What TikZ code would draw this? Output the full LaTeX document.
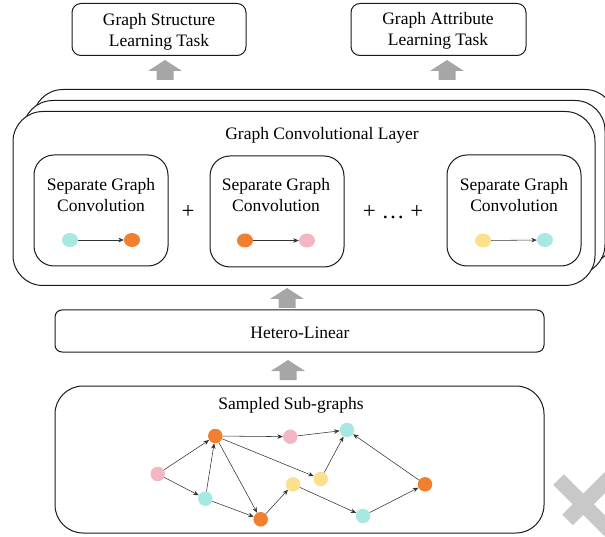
\documentclass[tikz,border=0pt]{standalone}
\usepackage{fontspec}
\setmainfont{Liberation Serif}
\usetikzlibrary{arrows.meta,shapes.geometric}
\definecolor{gpink}{HTML}{F4B6C2}
\definecolor{gteal}{HTML}{A8E8E2}
\definecolor{gorange}{HTML}{F08030}
\definecolor{gyellow}{HTML}{FDE08E}
\definecolor{garrow}{HTML}{A6A6A6}
\definecolor{gcross}{HTML}{C8C8C8}
\definecolor{gline}{HTML}{1A1A1A}
\tikzset{
  x=1pt,y=-1pt,
  box/.style={draw=gline,line width=1pt,fill=white,inner sep=0pt,align=center,font=\fontsize{17.5}{21}\selectfont},
  lbl/.style={inner sep=0pt,align=center,font=\fontsize{17.5}{21}\selectfont},
  vert/.style={circle,inner sep=0pt,minimum size=14.5pt},
  evert/.style={ellipse,inner sep=0pt,minimum width=16pt,minimum height=14pt},
  edge/.style={-{Stealth[length=5.5pt,width=4.5pt]},draw=black!80,line width=0.55pt},
  up/.style={fill=garrow,draw=none},
}
\newcommand{\uparr}[3]{% centre x, tip y, half width
  \fill[up] (#1,#2) -- (#1+#3,#2+11) -- (#1+8.5,#2+11) -- (#1+8.5,#2+20) -- (#1-8.5,#2+20) -- (#1-8.5,#2+11) -- (#1-#3,#2+11) -- cycle;}
\begin{document}
\begin{tikzpicture}
\useasboundingbox (0,0) rectangle (605,537);
\clip (0,0) rectangle (605,537);
% cross
\draw[gcross,line width=15pt] (558.5,479.5) -- (625,546);
\draw[gcross,line width=15pt] (567.5,520) -- (620,467.5);
% task boxes
\node[box,rounded corners=9pt,minimum width=174pt,minimum height=52pt] (t1) at (159,29.5) {};
\node[box,rounded corners=9pt,minimum width=175pt,minimum height=52pt] (t2) at (438.5,29.5) {};
\node[lbl] (t1t) at (159,32) {Graph Structure\\Learning Task};
\node[lbl] (t2t) at (438,31) {Graph Attribute\\Learning Task};
\uparr{165}{60}{17}
\uparr{447}{60}{17}
% layers
\node[box,rounded corners=30pt,minimum width=582pt,minimum height=174pt] (l3) at (324,176.5) {};
\node[box,rounded corners=30pt,minimum width=582pt,minimum height=174pt] (l2) at (314,187.5) {};
\node[box,rounded corners=30pt,minimum width=582pt,minimum height=174pt] (l1) at (304,198.5) {};
\node[lbl] (ltitle) at (322,135) {Graph Convolutional Layer};
% separate boxes
\node[box,rounded corners=20pt,minimum width=134pt,minimum height=111pt] (s1) at (101,210.5) {};
\node[box,rounded corners=20pt,minimum width=134pt,minimum height=111pt] (s2) at (277,211.5) {};
\node[box,rounded corners=20pt,minimum width=134pt,minimum height=111pt] (s3) at (514,210.5) {};
\node[lbl] (s1t) at (101,195) {Separate Graph\\Convolution};
\node[lbl] (s2t) at (276,195.5) {Separate Graph\\Convolution};
\node[lbl] (s3t) at (514,195) {Separate Graph\\Convolution};
\node[evert,fill=gteal] (p1) at (70,240) {};
\node[evert,fill=gorange] (q1) at (132,240) {};
\node[evert,fill=gorange] (p2) at (245,240.5) {};
\node[evert,fill=gpink] (q2) at (307,240.5) {};
\node[evert,fill=gyellow] (p3) at (483,240.5) {};
\node[evert,fill=gteal] (q3) at (545,240) {};
\draw[edge] (p1) -- (q1);
\draw[edge] (p2) -- (q2);
\draw[edge] (p3) -- (q3);
\node[lbl,font=\fontsize{23}{23}\selectfont] (plus1) at (188,212) {+};
\node[lbl,font=\fontsize{23}{23}\selectfont] (plus2) at (393,212) {+ … +};
\uparr{287}{288}{17}
\node[box,rounded corners=7pt,minimum width=489pt,minimum height=42pt] (hl) at (299.5,331) {};
\node[lbl] (hlt) at (300,332.5) {Hetero-Linear};
\uparr{288}{360}{17}
% sampled
\node[box,rounded corners=28pt,minimum width=489pt,minimum height=147pt] (sg) at (299.5,459.5) {};
\node[lbl] (sgt) at (291,405.5) {Sampled Sub-graphs};
\node[vert,fill=gpink] (a) at (157.7,474) {};
\node[vert,fill=gorange] (b) at (215.3,436) {};
\node[vert,fill=gpink] (c) at (290.3,436.7) {};
\node[vert,fill=gteal] (d) at (347,430) {};
\node[vert,fill=gyellow] (e) at (320.7,479) {};
\node[vert,fill=gyellow] (f) at (293,484.3) {};
\node[vert,fill=gorange] (g) at (425,484.3) {};
\node[vert,fill=gteal] (h) at (205.3,498.7) {};
\node[vert,fill=gorange] (i) at (260.7,519.3) {};
\node[vert,fill=gteal] (j) at (363,516) {};
\foreach \u/\v in {a/b,a/h,h/b,b/c,c/d,b/e,e/d,b/i,h/i,i/f,f/j,j/g,g/d}
  \draw[edge] (\u) -- (\v);
\end{tikzpicture}
\end{document}
